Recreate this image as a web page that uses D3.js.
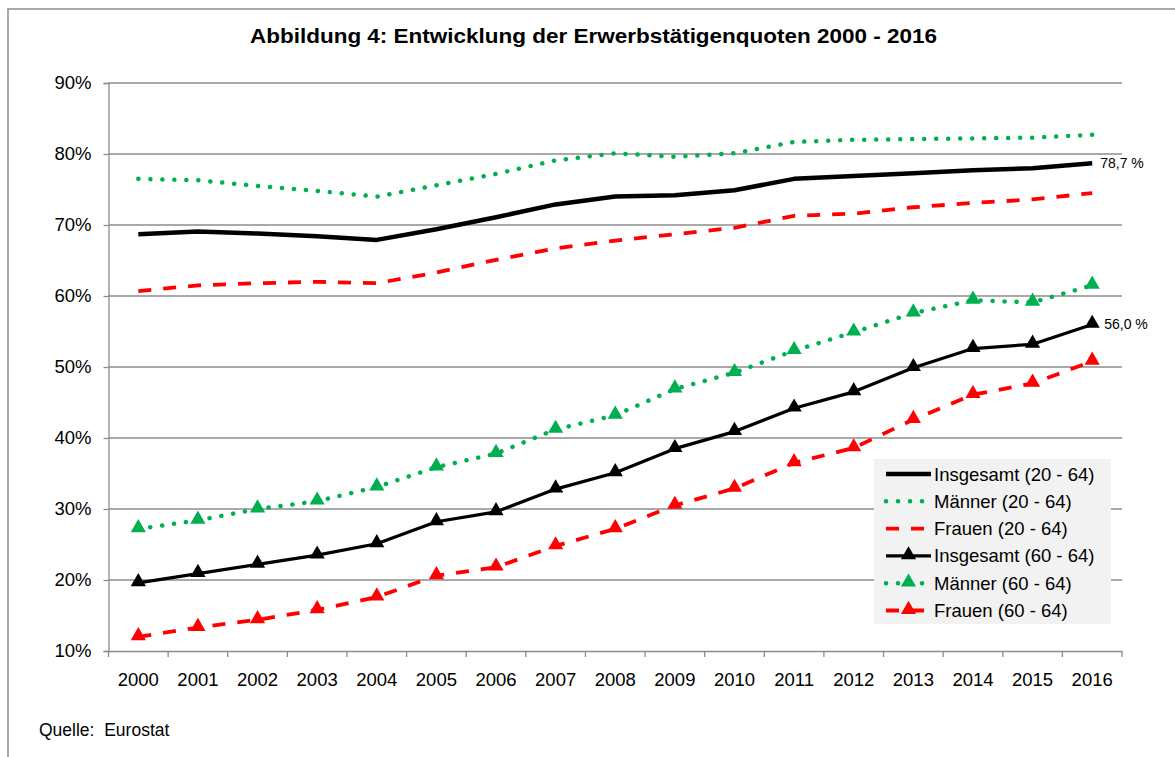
<!DOCTYPE html>
<meta charset="utf-8">
<html>
  <head>
    <script src="https://d3js.org/d3.v7.min.js"></script>
    <style>
      body { margin: 0; background: #fff; }
      text { font-family: "Liberation Sans", Arial, sans-serif; fill: #000; }
    </style>
  </head>
  <body>
    <div id="chart"></div>
    <script>
      // --- data ---
      var years = ["2000","2001","2002","2003","2004","2005","2006","2007","2008","2009","2010","2011","2012","2013","2014","2015","2016"];
      var total2064 = [68.7,69.1,68.8,68.4,67.9,69.4,71.1,72.9,74.0,74.2,74.9,76.5,76.9,77.3,77.7,78.0,78.7];
      var men2064   = [76.5,76.3,75.5,74.8,74.0,75.6,77.2,79.1,80.1,79.6,80.1,81.7,82.0,82.1,82.2,82.3,82.7];
      var women2064 = [60.7,61.5,61.8,62.0,61.8,63.3,65.1,66.7,67.8,68.7,69.6,71.3,71.6,72.5,73.1,73.6,74.5];
      var total6064 = [19.6,20.9,22.2,23.5,25.1,28.2,29.6,32.8,35.1,38.5,40.9,44.2,46.5,49.9,52.6,53.2,56.0];
      var men6064   = [27.2,28.4,30.0,31.1,33.1,35.9,37.8,41.2,43.2,46.9,49.2,52.3,54.9,57.6,59.4,59.1,61.5];
      var women6064 = [12.0,13.3,14.4,15.8,17.6,20.6,21.8,24.8,27.2,30.5,32.9,36.5,38.6,42.6,46.1,47.7,50.8];
      var yTicks = [10,20,30,40,50,60,70,80,90];

      var series = [
        {name: "Insgesamt (20 - 64)", values: total2064, color: "#000", width: 4.5, dash: null, tri: false},
        {name: "Männer (20 - 64)",   values: men2064,   color: "#00b050", width: 4.5, dash: "0.1 11.9", tri: false},
        {name: "Frauen (20 - 64)",   values: women2064, color: "#ff0000", width: 3.8, dash: "13 12", tri: false},
        {name: "Insgesamt (60 - 64)", values: total6064, color: "#000", width: 3.2, dash: null, tri: true},
        {name: "Männer (60 - 64)",   values: men6064,   color: "#00b050", width: 4.5, dash: "0.1 11.9", tri: true},
        {name: "Frauen (60 - 64)",   values: women6064, color: "#ff0000", width: 3.8, dash: "13 12", tri: true}
      ];

      var width = 1175, height = 757;
      var svg = d3.select("#chart").append("svg")
          .attr("width", width)
          .attr("height", height);

      // outer frame (runs off the bottom/right edge)
      svg.append("rect")
          .attr("x", 8).attr("y", 9)
          .attr("width", 1200).attr("height", 800)
          .attr("fill", "none").attr("stroke", "#8c8c8c").attr("stroke-width", 1.5);

      svg.append("text")
          .attr("x", 250).attr("y", 43)
          .style("font-size", "21px").style("font-weight", "bold")
          .attr("textLength", 687).attr("lengthAdjust", "spacingAndGlyphs")
          .text("Abbildung 4: Entwicklung der Erwerbstätigenquoten 2000 - 2016");

      var x = d3.scaleBand().domain(years).range([108.5, 1122]).padding(0);
      var y = d3.scaleLinear().domain([10, 90]).range([651, 83]);
      var cx = function(i) { return x(years[i]) + x.bandwidth() / 2; };

      // gridlines
      svg.append("g").selectAll("line")
        .data(yTicks.slice(1))
        .enter().append("line")
          .attr("x1", 108.5).attr("x2", 1122)
          .attr("y1", function(d) { return y(d); })
          .attr("y2", function(d) { return y(d); })
          .attr("stroke", "#8c8c8c").attr("stroke-width", 1.3);

      // y axis
      var yAxis = svg.append("g")
          .attr("transform", "translate(108.5,0)")
          .call(d3.axisLeft(y).tickValues(yTicks).tickSize(5).tickPadding(12)
            .tickFormat(function(d) { return d + "%"; }));
      yAxis.select(".domain").attr("stroke", "#8c8c8c").attr("stroke-width", 1.3);
      yAxis.selectAll(".tick line").attr("stroke", "#8c8c8c").attr("stroke-width", 1.3);
      yAxis.selectAll(".tick text").style("font-size", "18.5px").attr("fill", "#000");

      // x axis
      var xAxis = svg.append("g")
          .attr("transform", "translate(0,651)")
          .call(d3.axisBottom(x).tickSize(0).tickPadding(22));
      xAxis.select(".domain").attr("stroke", "#8c8c8c").attr("stroke-width", 1.3);
      xAxis.selectAll(".tick text").style("font-size", "18.5px").attr("fill", "#000");
      xAxis.selectAll("line.sep")
        .data(d3.range(years.length + 1))
        .enter().append("line")
          .attr("class", "sep")
          .attr("x1", function(i) { return 108.5 + i * x.bandwidth(); })
          .attr("x2", function(i) { return 108.5 + i * x.bandwidth(); })
          .attr("y1", 0).attr("y2", 6)
          .attr("stroke", "#8c8c8c").attr("stroke-width", 1.3);

      var line = d3.line()
          .x(function(d, i) { return cx(i); })
          .y(function(d) { return y(d); });

      var tri = d3.symbol().type(d3.symbolTriangle).size(100);

      series.forEach(function(s) {
        svg.append("path")
            .attr("d", line(s.values))
            .attr("fill", "none")
            .attr("stroke", s.color)
            .attr("stroke-width", s.width)
            .attr("stroke-linecap", s.dash && s.dash.indexOf("0.1") === 0 ? "round" : "butt")
            .attr("stroke-linejoin", "round")
            .attr("stroke-dasharray", s.dash);
        if (s.tri) {
          svg.append("g").selectAll("path")
            .data(s.values)
            .enter().append("path")
              .attr("d", tri)
              .attr("transform", function(d, i) { return "translate(" + cx(i) + "," + (y(d) - 1) + ")"; })
              .attr("fill", s.color);
        }
      });

      // end labels
      svg.append("text")
          .attr("x", cx(16) + 8).attr("y", y(total2064[16]) + 5)
          .style("font-size", "14px")
          .text("78,7 %");
      svg.append("text")
          .attr("x", cx(16) + 12).attr("y", y(total6064[16]) + 5)
          .style("font-size", "14px")
          .text("56,0 %");

      // legend
      var legend = svg.append("g").attr("transform", "translate(874,459)");
      legend.append("rect")
          .attr("width", 237).attr("height", 165)
          .attr("fill", "#f2f2f2");
      series.forEach(function(s, i) {
        var ly = 15 + i * 27.3;
        legend.append("line")
            .attr("x1", 12).attr("x2", 57)
            .attr("y1", ly).attr("y2", ly)
            .attr("stroke", s.color)
            .attr("stroke-width", s.width)
            .attr("stroke-linecap", s.dash && s.dash.indexOf("0.1") === 0 ? "round" : "butt")
            .attr("stroke-dasharray", s.dash);
        if (s.tri) {
          legend.append("path")
              .attr("d", tri)
              .attr("transform", "translate(34.5," + (ly - 1) + ")")
              .attr("fill", s.color);
        }
        legend.append("text")
            .attr("x", 60).attr("y", ly + 6.5)
            .style("font-size", "18.5px")
            .text(s.name);
      });

      svg.append("text")
          .attr("x", 39).attr("y", 736)
          .style("font-size", "17.5px")
          .style("white-space", "pre")
          .text("Quelle:  Eurostat");
    </script>
  </body>
</html>
